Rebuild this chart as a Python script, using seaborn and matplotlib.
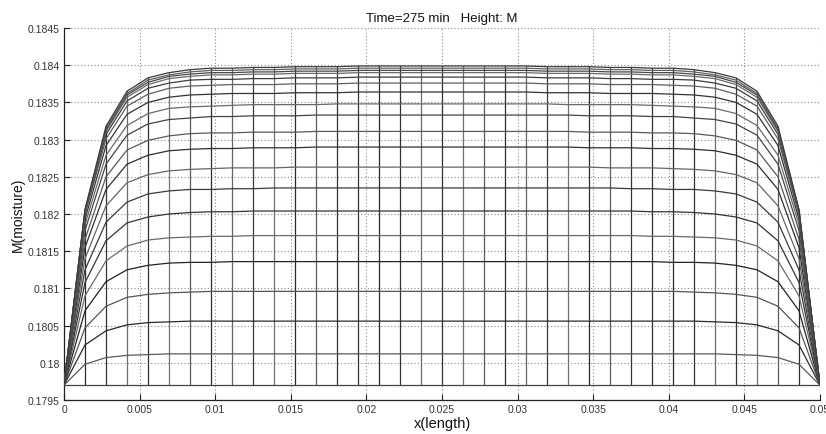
import numpy as np
import pandas as pd
import matplotlib
matplotlib.use("Agg")
import matplotlib.pyplot as plt
from matplotlib.ticker import FuncFormatter
import seaborn as sns

# ---------------- data ----------------
title_text = "Time=275 min   Height: M"
x_label = "x(length)"
y_label = "M(moisture)"
x_ticks = [0, 0.005, 0.01, 0.015, 0.02, 0.025, 0.03, 0.035, 0.04, 0.045, 0.05]
y_ticks = [0.1795, 0.18, 0.1805, 0.181, 0.1815, 0.182, 0.1825, 0.183, 0.1835, 0.184, 0.1845]

# 37 mesh nodes across the length 0 .. 0.05
x_nodes = np.linspace(0.0, 0.05, 37)

# moisture profiles, left half (node 0 .. centre node 18); profiles are symmetric
m_t00 = [0.17970, 0.17970, 0.17970, 0.17970, 0.17970, 0.17970, 0.17970, 0.17970, 0.17970, 0.17970,
         0.17970, 0.17970, 0.17970, 0.17970, 0.17970, 0.17970, 0.17970, 0.17970, 0.17970]
m_t01 = [0.17970, 0.17998, 0.18007, 0.18010, 0.18011, 0.18012, 0.18012, 0.18012, 0.18012, 0.18012,
         0.18012, 0.18012, 0.18012, 0.18012, 0.18012, 0.18012, 0.18012, 0.18012, 0.18012]
m_t02 = [0.17970, 0.18024, 0.18043, 0.18051, 0.18054, 0.18055, 0.18056, 0.18056, 0.18056, 0.18056,
         0.18056, 0.18056, 0.18056, 0.18056, 0.18056, 0.18056, 0.18056, 0.18056, 0.18056]
m_t03 = [0.17970, 0.18047, 0.18076, 0.18088, 0.18092, 0.18094, 0.18095, 0.18096, 0.18096, 0.18096,
         0.18096, 0.18096, 0.18096, 0.18096, 0.18096, 0.18096, 0.18096, 0.18096, 0.18096]
m_t04 = [0.17970, 0.18070, 0.18109, 0.18125, 0.18131, 0.18134, 0.18135, 0.18135, 0.18136, 0.18136,
         0.18136, 0.18136, 0.18136, 0.18136, 0.18136, 0.18136, 0.18136, 0.18136, 0.18136]
m_t05 = [0.17970, 0.18090, 0.18137, 0.18157, 0.18165, 0.18168, 0.18169, 0.18170, 0.18170, 0.18171,
         0.18171, 0.18171, 0.18171, 0.18171, 0.18171, 0.18171, 0.18171, 0.18171, 0.18171]
m_t06 = [0.17970, 0.18108, 0.18164, 0.18188, 0.18196, 0.18200, 0.18202, 0.18203, 0.18203, 0.18204,
         0.18204, 0.18204, 0.18204, 0.18204, 0.18204, 0.18204, 0.18204, 0.18204, 0.18204]
m_t07 = [0.17970, 0.18125, 0.18189, 0.18216, 0.18227, 0.18231, 0.18233, 0.18233, 0.18234, 0.18234,
         0.18235, 0.18235, 0.18235, 0.18235, 0.18235, 0.18235, 0.18235, 0.18235, 0.18235]
m_t08 = [0.17970, 0.18140, 0.18211, 0.18242, 0.18253, 0.18258, 0.18260, 0.18261, 0.18262, 0.18262,
         0.18262, 0.18263, 0.18263, 0.18263, 0.18263, 0.18263, 0.18263, 0.18263, 0.18263]
m_t09 = [0.17970, 0.18155, 0.18233, 0.18267, 0.18279, 0.18285, 0.18287, 0.18288, 0.18288, 0.18289,
         0.18289, 0.18289, 0.18290, 0.18290, 0.18290, 0.18290, 0.18290, 0.18290, 0.18290]
m_t10 = [0.17970, 0.18166, 0.18250, 0.18286, 0.18299, 0.18305, 0.18308, 0.18309, 0.18309, 0.18310,
         0.18310, 0.18310, 0.18311, 0.18311, 0.18311, 0.18311, 0.18311, 0.18311, 0.18311]
m_t11 = [0.17970, 0.18178, 0.18267, 0.18306, 0.18321, 0.18327, 0.18329, 0.18331, 0.18331, 0.18332,
         0.18332, 0.18332, 0.18333, 0.18333, 0.18333, 0.18333, 0.18333, 0.18333, 0.18333]
m_t12 = [0.17970, 0.18186, 0.18279, 0.18319, 0.18335, 0.18342, 0.18344, 0.18345, 0.18346, 0.18347,
         0.18347, 0.18347, 0.18347, 0.18348, 0.18348, 0.18348, 0.18348, 0.18348, 0.18348]
m_t13 = [0.17970, 0.18193, 0.18292, 0.18334, 0.18350, 0.18357, 0.18360, 0.18361, 0.18362, 0.18362,
         0.18362, 0.18363, 0.18363, 0.18363, 0.18364, 0.18364, 0.18364, 0.18364, 0.18364]
m_t14 = [0.17970, 0.18199, 0.18301, 0.18345, 0.18361, 0.18369, 0.18372, 0.18373, 0.18374, 0.18374,
         0.18374, 0.18375, 0.18375, 0.18375, 0.18376, 0.18376, 0.18376, 0.18376, 0.18376]
m_t15 = [0.17970, 0.18202, 0.18307, 0.18352, 0.18369, 0.18376, 0.18380, 0.18381, 0.18381, 0.18382,
         0.18382, 0.18383, 0.18383, 0.18383, 0.18384, 0.18384, 0.18384, 0.18384, 0.18384]
m_t16 = [0.17970, 0.18204, 0.18311, 0.18357, 0.18374, 0.18382, 0.18385, 0.18387, 0.18387, 0.18388,
         0.18388, 0.18389, 0.18389, 0.18389, 0.18390, 0.18390, 0.18390, 0.18390, 0.18390]
m_t17 = [0.17970, 0.18205, 0.18313, 0.18360, 0.18377, 0.18385, 0.18388, 0.18390, 0.18390, 0.18391,
         0.18391, 0.18392, 0.18392, 0.18392, 0.18393, 0.18393, 0.18393, 0.18393, 0.18393]
m_t18 = [0.17970, 0.18205, 0.18315, 0.18362, 0.18380, 0.18387, 0.18391, 0.18393, 0.18393, 0.18394,
         0.18394, 0.18395, 0.18395, 0.18395, 0.18396, 0.18396, 0.18396, 0.18396, 0.18396]
m_t19 = [0.17970, 0.18206, 0.18318, 0.18365, 0.18383, 0.18390, 0.18394, 0.18396, 0.18396, 0.18397,
         0.18397, 0.18398, 0.18398, 0.18398, 0.18399, 0.18399, 0.18399, 0.18399, 0.18399]

half_profiles = [m_t00, m_t01, m_t02, m_t03, m_t04, m_t05, m_t06, m_t07, m_t08, m_t09,
                 m_t10, m_t11, m_t12, m_t13, m_t14, m_t15, m_t16, m_t17, m_t18, m_t19]

# ---------------- build long table ----------------
rows = []
for k, half in enumerate(half_profiles):
    full = list(half) + list(half[-2::-1])   # mirror about the centre node
    for j, m in enumerate(full):
        rows.append({"curve": k, "node": j, "x": x_nodes[j], "M": m})
df = pd.DataFrame(rows)

# mesh-like grey shades
curve_cols = ["#444444", "#5a5a5a", "#2a2a2a", "#555555", "#222222", "#6a6a6a", "#333333",
              "#3a3a3a", "#666666", "#2e2e2e", "#595959", "#444444", "#6a6a6a", "#333333",
              "#5f5f5f", "#3c3c3c", "#6a6a6a", "#484848", "#606060", "#3a3a3a"]
node_cols = ["#333333", "#2a2a2a", "#333333", "#6c6c6c", "#333333", "#707070", "#5a5a5a",
             "#2e2e2e", "#666666", "#3a3a3a", "#707070", "#2a2a2a", "#5e5e5e", "#333333"]
node_pal = {j: node_cols[j % len(node_cols)] for j in range(len(x_nodes))}
curve_pal = {k: curve_cols[k % len(curve_cols)] for k in range(len(half_profiles))}

# ---------------- plot ----------------
sns.set_theme(style="white")
plt.rcParams["font.family"] = ["Liberation Sans", "DejaVu Sans"]

fig = plt.figure(figsize=(8.26, 4.35), dpi=100)
ax = fig.add_axes([0.0775, 0.0782, 0.9152, 0.8551])

sns.lineplot(data=df, x="x", y="M", hue="node", palette=node_pal, orient="y",
             estimator=None, sort=True, legend=False, linewidth=0.9, ax=ax, zorder=3)
sns.lineplot(data=df, x="x", y="M", hue="curve", palette=curve_pal,
             estimator=None, sort=True, legend=False, linewidth=0.9, ax=ax, zorder=4)

ax.set_xlim(0, 0.05)
ax.set_ylim(0.1795, 0.1845)
ax.set_xticks(x_ticks)
ax.set_yticks(y_ticks)
fmt = FuncFormatter(lambda v, p: "%g" % round(v, 6))
ax.xaxis.set_major_formatter(fmt)
ax.yaxis.set_major_formatter(fmt)

ax.grid(True, linestyle=(0, (1, 2)), color="#8a8a8a", linewidth=0.8, zorder=0)
ax.set_axisbelow(True)
for s in ["top", "right"]:
    ax.spines[s].set_visible(False)
for s in ["left", "bottom"]:
    ax.spines[s].set_color("#222222")
    ax.spines[s].set_linewidth(0.9)

ax.tick_params(axis="both", direction="in", length=4, width=0.8, colors="#222222",
               labelsize=7.5, labelcolor="#333333", pad=3)
ax.tick_params(axis="both", bottom=True, left=True)

ax.set_title(title_text, fontsize=9.5, color="#111111", pad=5)
ax.set_xlabel(x_label, fontsize=10.5, color="#111111", labelpad=1)
ax.set_ylabel(y_label, fontsize=10, color="#111111", labelpad=2)

fig.savefig("out.png", dpi=100)
